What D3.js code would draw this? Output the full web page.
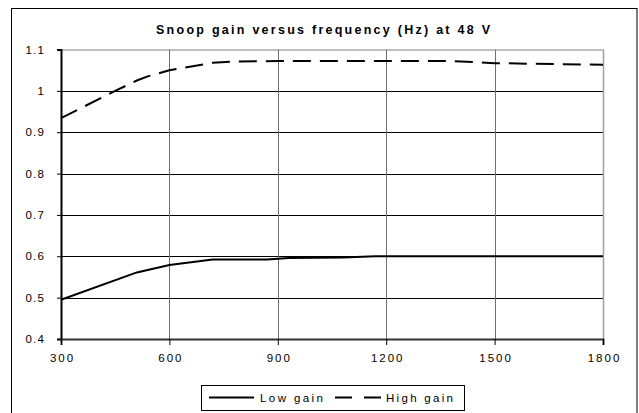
<!DOCTYPE html>
<html><head><meta charset="utf-8">
<script src="https://cdn.jsdelivr.net/npm/d3@7/dist/d3.min.js"></script>
<style>body{margin:0;background:#fff}svg{display:block}text{font-family:"Liberation Sans",Arial,sans-serif}</style>
</head><body><svg id="c" width="639" height="413"></svg>
<script>
const title = "Snoop gain versus frequency (Hz) at 48 V";
const xTicks = [300, 600, 900, 1200, 1500, 1800];
const yTicks = [0.4, 0.5, 0.6, 0.7, 0.8, 0.9, 1, 1.1];
const seriesNames = ["Low gain", "High gain"];
const lowFreq  = [300, 510, 600, 720, 870, 930, 1080, 1170, 1800];
const lowGain  = [0.495, 0.561, 0.579, 0.592, 0.592, 0.596, 0.597, 0.600, 0.600];
const highFreq = [300, 450, 510, 540, 600, 720, 780, 900, 1200, 1380, 1500, 1800];
const highGain = [0.934, 1.0, 1.025, 1.035, 1.050, 1.068, 1.071, 1.072, 1.072, 1.072, 1.067, 1.063];

const svg = d3.select("#c");
const L = 61, R = 603, T = 49.5, B = 339;
const x = d3.scaleLinear().domain([300, 1800]).range([L, R]);
const y = d3.scaleLinear().domain([0.4, 1.1]).range([B, T]);

// outer frame
svg.append("rect").attr("x", 11.5).attr("y", 8.5).attr("width", 625.5).attr("height", 420)
  .attr("fill", "none").attr("stroke", "#000").attr("stroke-width", 1);

// title
svg.append("text").attr("x", 156).attr("y", 34)
  .attr("font-size", 12.5).attr("font-weight", "bold")
  .attr("textLength", 334).attr("lengthAdjust", "spacing")
  .text(title);

// horizontal gridlines
svg.append("g").selectAll("line").data(yTicks.filter(d => d > 0.4 && d < 1.1)).join("line")
  .attr("x1", L).attr("x2", R).attr("y1", d => Math.round(y(d)) + 0.5).attr("y2", d => Math.round(y(d)) + 0.5)
  .attr("stroke", "#000").attr("stroke-width", 1);
// top border
svg.append("line").attr("x1", L).attr("x2", R).attr("y1", T + 0.5).attr("y2", T + 0.5)
  .attr("stroke", "#808080").attr("stroke-width", 1);
// vertical gridlines
svg.append("g").selectAll("line").data(xTicks.filter(d => d > 300)).join("line")
  .attr("x1", d => Math.round(x(d)) + 0.5).attr("x2", d => Math.round(x(d)) + 0.5)
  .attr("y1", T).attr("y2", B)
  .attr("stroke", d => d === 1800 ? "#a0a0a0" : "#707070").attr("stroke-width", d => d === 1800 ? 1.5 : 1);

// axes
const yAxis = d3.axisLeft(y).tickValues(yTicks).tickSize(4).tickPadding(12)
  .tickFormat(d => d === 1 ? "1" : d3.format(".1f")(d));
const gy = svg.append("g").attr("transform", `translate(${L},0)`).call(yAxis);
gy.select(".domain").attr("stroke", "#000").attr("stroke-width", 2);
gy.selectAll(".tick line").attr("stroke", "#000");
gy.selectAll("text").attr("font-size", 11.5).attr("letter-spacing", 1.2).attr("fill", "#000")
  .attr("font-family", "'Liberation Sans',Arial,sans-serif");

const xAxis = d3.axisBottom(x).tickValues(xTicks).tickSize(6).tickPadding(9).tickFormat(d3.format("d"));
const gx = svg.append("g").attr("transform", `translate(0,${B})`).call(xAxis);
gx.select(".domain").attr("stroke", "#333").attr("stroke-width", 2);
gx.selectAll(".tick line").attr("stroke", "#000");
gx.selectAll("text").attr("font-size", 11.5).attr("letter-spacing", 2).attr("fill", "#000")
  .attr("dx", 1).attr("font-family", "'Liberation Sans',Arial,sans-serif");

// lines
const line = d3.line().x(d => x(d[0])).y(d => y(d[1]));
svg.append("path").datum(d3.zip(lowFreq, lowGain)).attr("d", line)
  .attr("fill", "none").attr("stroke", "#000").attr("stroke-width", 2);
svg.append("path").datum(d3.zip(highFreq, highGain)).attr("d", line)
  .attr("fill", "none").attr("stroke", "#000").attr("stroke-width", 2).attr("stroke-dasharray", "18,9");

// legend
const lg = svg.append("g");
lg.append("rect").attr("x", 201.5).attr("y", 385.5).attr("width", 263).attr("height", 25)
  .attr("fill", "#fff").attr("stroke", "#000");
lg.append("line").attr("x1", 209).attr("x2", 254).attr("y1", 397.5).attr("y2", 397.5)
  .attr("stroke", "#000").attr("stroke-width", 2);
lg.append("text").attr("x", 260).attr("y", 402).attr("font-size", 11.5)
  .attr("textLength", 63).attr("lengthAdjust", "spacing").text(seriesNames[0]);
lg.append("line").attr("x1", 335).attr("x2", 383).attr("y1", 397.5).attr("y2", 397.5)
  .attr("stroke", "#000").attr("stroke-width", 2).attr("stroke-dasharray", "17,12");
lg.append("text").attr("x", 386).attr("y", 402).attr("font-size", 11.5)
  .attr("textLength", 67).attr("lengthAdjust", "spacing").text(seriesNames[1]);
</script></body></html>
